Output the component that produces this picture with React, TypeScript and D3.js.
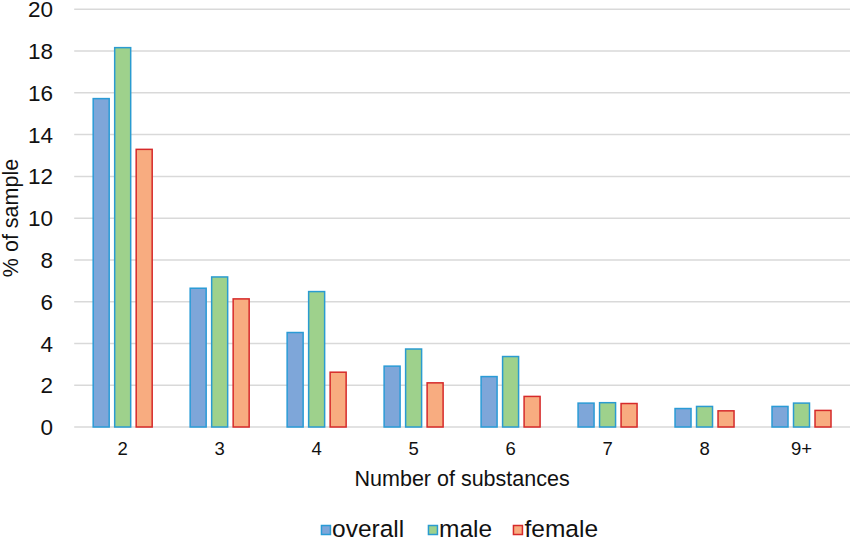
import React from "react";
import * as d3 from "d3";

const categories = ["2", "3", "4", "5", "6", "7", "8", "9+"];
const seriesNames = ["overall", "male", "female"];
const overall = [15.76, 6.68, 4.56, 2.95, 2.45, 1.18, 0.92, 1.02];
const male = [18.2, 7.22, 6.52, 3.77, 3.41, 1.2, 1.02, 1.18];
const female = [13.33, 6.17, 2.66, 2.15, 1.5, 1.16, 0.81, 0.83];
const yTicks = [0, 2, 4, 6, 8, 10, 12, 14, 16, 18, 20];

const fills = ["#7EA6D9", "#9ED18C", "#F8AC80"];
const strokes = ["#2A9BD6", "#2A9BD0", "#D62A2A"];

const W = 850;
const H = 540;
const left = 74.2;
const right = 850;
const top = 9.3;
const bottom = 427;
const FONT = "Arimo, 'Liberation Sans', Arial, sans-serif";

export default function App() {
  const values = [overall, male, female];
  const x0 = d3.scaleBand<string>().domain(categories).range([left, right]).padding(0);
  const x1 = d3
    .scaleBand<string>()
    .domain(seriesNames)
    .range([-30.25, 30.25])
    .paddingInner(0.186)
    .paddingOuter(0);
  const y = d3.scaleLinear().domain([0, 20]).range([bottom, top]);
  const sw = 1.5;

  const legendItems = [
    { name: "overall", sq: 320.7, tx: 332 },
    { name: "male", sq: 427.7, tx: 439 },
    { name: "female", sq: 512.7, tx: 524.5 },
  ];

  return (
    <svg
      width={W}
      height={H}
      style={{ position: "absolute", left: 0, top: 0, background: "#fff" }}
      fontFamily={FONT}
    >
      <rect x={0} y={0} width={W} height={H} fill="#fff" />
      {yTicks.map((t) => (
        <g key={t}>
          <line x1={left} x2={right} y1={y(t)} y2={y(t)} stroke="#D9D9D9" strokeWidth={1.5} />
          <text x={53} y={y(t)} dy="0.36em" textAnchor="end" fontSize={22.5} fill="#111">
            {t}
          </text>
        </g>
      ))}
      {categories.map((c, ci) => {
        const cx = (x0(c) as number) + x0.bandwidth() / 2;
        return (
          <g key={c}>
            {seriesNames.map((s, si) => {
              const v = values[si][ci];
              const bx = cx + (x1(s) as number);
              return (
                <rect
                  key={s}
                  x={bx + sw / 2}
                  y={y(v) + sw / 2}
                  width={x1.bandwidth() - sw}
                  height={y(0) - y(v) - sw / 2}
                  fill={fills[si]}
                  stroke={strokes[si]}
                  strokeWidth={sw}
                />
              );
            })}
            <text x={cx} y={455} textAnchor="middle" fontSize={18.5} fill="#111">
              {c}
            </text>
          </g>
        );
      })}
      <text
        x={(left + right) / 2}
        y={486}
        textAnchor="middle"
        fontSize={21.5}
        fill="#111"
      >
        Number of substances
      </text>
      <text
        transform={`translate(17.5, 218) rotate(-90)`}
        textAnchor="middle"
        fontSize={21.5}
        fill="#111"
      >
        % of sample
      </text>
      {legendItems.map((l, i) => (
        <g key={l.name}>
          <rect
            x={l.sq + 0.75}
            y={525.5}
            width={9}
            height={9}
            fill={fills[i]}
            stroke={strokes[i]}
            strokeWidth={1.5}
          />
          <text x={l.tx} y={536.5} fontSize={24.5} fill="#111">
            {l.name}
          </text>
        </g>
      ))}
    </svg>
  );
}
